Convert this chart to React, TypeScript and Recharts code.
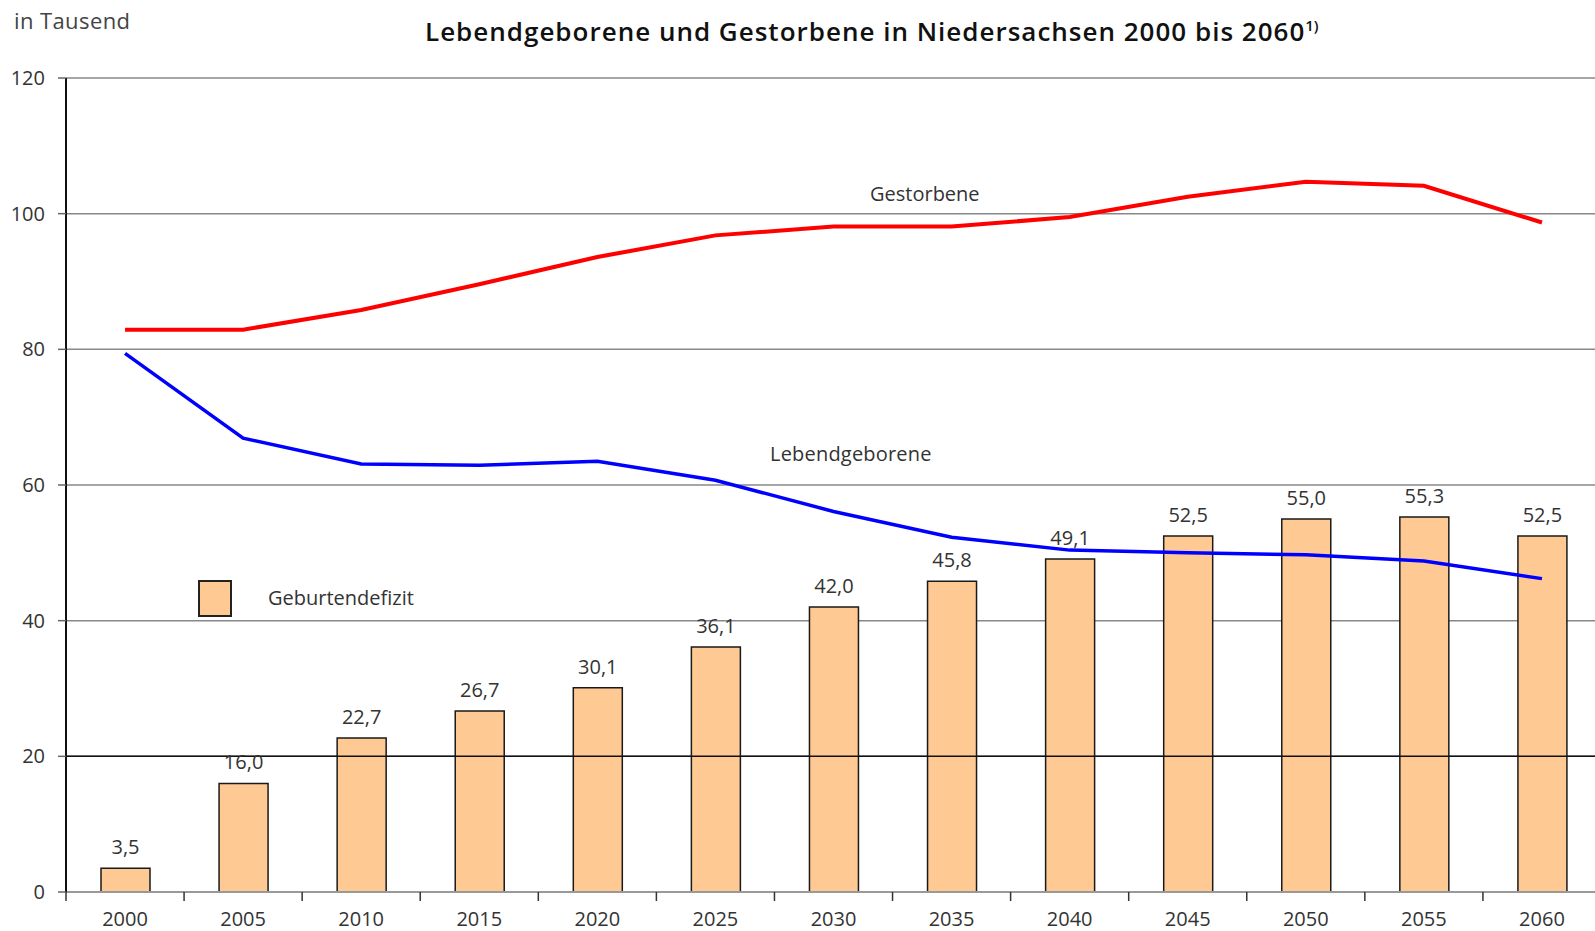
import React from 'react';
import { ComposedChart, Bar, Line, XAxis, YAxis, CartesianGrid, ReferenceLine, LabelList } from 'recharts';

const years = ['2000', '2005', '2010', '2015', '2020', '2025', '2030', '2035', '2040', '2045', '2050', '2055', '2060'];
const gestorbene = [82.9, 82.9, 85.8, 89.6, 93.6, 96.8, 98.1, 98.1, 99.5, 102.5, 104.7, 104.1, 98.7];
const lebendgeborene = [79.4, 66.9, 63.1, 62.9, 63.5, 60.7, 56.1, 52.3, 50.4, 50.0, 49.7, 48.8, 46.2];
const geburtendefizit = [3.5, 16.0, 22.7, 26.7, 30.1, 36.1, 42.0, 45.8, 49.1, 52.5, 55.0, 55.3, 52.5];
const yTicks = [0, 20, 40, 60, 80, 100, 120];

const data = years.map((year, i) => ({
  year,
  gestorbene: gestorbene[i],
  lebendgeborene: lebendgeborene[i],
  defizit: geburtendefizit[i],
}));

const FONT = '"Open Sans", "DejaVu Sans", sans-serif';

const XTick = (props: any) => {
  const { x, y, payload } = props;
  const off = payload && typeof payload.offset === 'number' ? payload.offset : 0;
  return (
    <g>
      <line x1={x - off} x2={x - off} y1={y} y2={y + 9} stroke="#333" strokeWidth={1.5} />
      <text x={x} y={y + 34} textAnchor="middle" fill="#333" fontSize={20} fontFamily={FONT}>
        {payload.value}
      </text>
    </g>
  );
};

const fmt = (v: any) => Number(v).toFixed(1).replace('.', ',');

export default function App() {
  return (
    <div
      style={{
        position: 'fixed',
        left: 0,
        top: 0,
        width: 1595,
        height: 931,
        overflow: 'hidden',
        background: '#fff',
        fontFamily: FONT,
      }}
    >
      <ComposedChart
        width={1605}
        height={931}
        data={data}
        margin={{ top: 78, right: 4, bottom: 0, left: 0 }}
        barSize={49}
      >
        <CartesianGrid vertical={false} stroke="#888" strokeWidth={1.5} />
        <ReferenceLine y={20} stroke="#111" strokeWidth={1.5} />
        <XAxis
          dataKey="year"
          height={39}
          tickLine={false}
          tickSize={0}
          tickMargin={0}
          axisLine={{ stroke: '#999', strokeWidth: 2 }}
          tick={<XTick />}
          interval={0}
        />
        <YAxis
          width={66}
          domain={[0, 120]}
          ticks={yTicks}
          tickSize={8}
          tickMargin={13}
          axisLine={{ stroke: '#111', strokeWidth: 2 }}
          tickLine={{ stroke: '#666', strokeWidth: 1.5 }}
          tick={{ fill: '#333', fontSize: 20, fontFamily: FONT }}
        />
        <Bar dataKey="defizit" fill="#FFC994" stroke="#1a1a1a" strokeWidth={1.5} isAnimationActive={false}>
          <LabelList
            dataKey="defizit"
            position="top"
            offset={14}
            formatter={fmt}
            fill="#333"
            fontSize={20}
            fontFamily={FONT}
          />
        </Bar>
        <Line type="linear" dataKey="gestorbene" stroke="#ff0000" strokeWidth={4} dot={false} isAnimationActive={false} />
        <Line type="linear" dataKey="lebendgeborene" stroke="#0000ff" strokeWidth={3.5} dot={false} isAnimationActive={false} />
      </ComposedChart>

      <div style={{ position: 'absolute', left: 14, top: 5, fontSize: 22, letterSpacing: 0.4, color: '#444', whiteSpace: 'nowrap' }}>
        in Tausend
      </div>
      <div
        style={{
          position: 'absolute',
          left: 425,
          top: 13,
          fontSize: 26,
          fontWeight: 600,
          letterSpacing: 1,
          color: '#111',
          whiteSpace: 'nowrap',
        }}
      >
        Lebendgeborene und Gestorbene in Niedersachsen 2000 bis 2060
        <sup style={{ fontSize: 15, letterSpacing: 0 }}>1)</sup>
      </div>
      <div style={{ position: 'absolute', left: 870, top: 180, fontSize: 20, color: '#333', whiteSpace: 'nowrap' }}>
        Gestorbene
      </div>
      <div style={{ position: 'absolute', left: 770, top: 440, fontSize: 20, letterSpacing: 0.2, color: '#333', whiteSpace: 'nowrap' }}>
        Lebendgeborene
      </div>
      <div
        style={{
          position: 'absolute',
          left: 198,
          top: 580,
          width: 34,
          height: 37,
          background: '#FFC994',
          border: '2px solid #222',
          boxSizing: 'border-box',
        }}
      />
      <div style={{ position: 'absolute', left: 268, top: 584, fontSize: 20, color: '#333', whiteSpace: 'nowrap' }}>
        Geburtendefizit
      </div>
    </div>
  );
}
